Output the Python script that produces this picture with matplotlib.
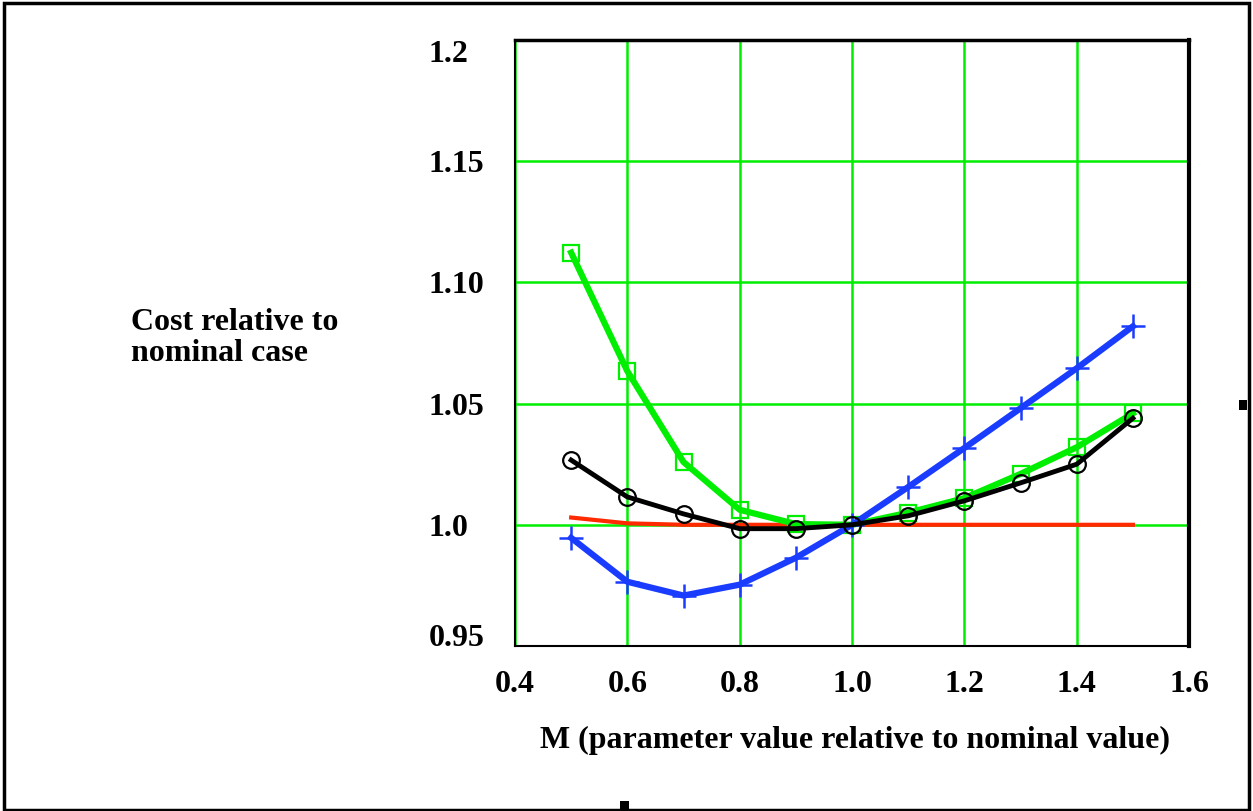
import numpy as np
import matplotlib
matplotlib.use("Agg")
import matplotlib.pyplot as plt
from matplotlib.patches import Rectangle

# M values (parameter relative to nominal)
m = [0.5, 0.6, 0.7, 0.8, 0.9, 1.0, 1.1, 1.2, 1.3, 1.4, 1.5]

# cost relative to nominal case, one curve per parameter
cost_red = [1.003, 1.0006, 1.0, 1.0, 1.0, 1.0, 1.0, 1.0, 1.0, 1.0, 1.0]
cost_green = [1.1123, 1.0634, 1.0259, 1.0062, 1.0003, 1.0, 1.0050, 1.0110, 1.0210, 1.0320, 1.0460]
cost_blue = [0.9946, 0.9765, 0.9708, 0.9753, 0.9864, 1.0, 1.0156, 1.0317, 1.0481, 1.0646, 1.0819]
cost_black = [1.0267, 1.0115, 1.0045, 0.9984, 0.9984, 1.0, 1.0037, 1.0099, 1.0173, 1.0250, 1.0440]

xticks = [0.4, 0.6, 0.8, 1.0, 1.2, 1.4, 1.6]
xlabels = ['0.4', '0.6', '0.8', '1.0', '1.2', '1.4', '1.6']
yticks = [0.95, 1.0, 1.05, 1.10, 1.15, 1.2]
ylabels = ['0.95', '1.0', '1.05', '1.10', '1.15', '1.2']

plt.rcParams['font.family'] = ['Liberation Serif', 'DejaVu Serif']
plt.rcParams['font.weight'] = 'bold'

fig = plt.figure(figsize=(12.53, 8.11), dpi=100)
ax = fig.add_axes([0.411, 0.2035, 0.538, 0.747])

grn = '#00ee00'
ax.plot(m, cost_red, color='#ff2a00', lw=3, zorder=3)
ax.plot(m, cost_green, color=grn, lw=4.5, marker='s', ms=12, mfc='none',
        mec=grn, mew=1.6, zorder=4)
ax.plot(m, cost_blue, color='#1a3cff', lw=4.5, marker='+', ms=17,
        mew=1.8, zorder=5)
ax.plot(m, cost_black, color='black', lw=3.5, marker='o', ms=12, mfc='none',
        mec='black', mew=1.6, zorder=6)

ax.set_xlim(0.4, 1.6)
ax.set_ylim(0.95, 1.2)
ax.set_xticks(xticks)
ax.set_xticklabels(xlabels, fontsize=23, fontweight='bold')
ax.set_yticks(yticks)
ax.set_yticklabels(ylabels, fontsize=23, fontweight='bold')
ylabs = ax.get_yticklabels()
for lab in ylabs:
    lab.set_horizontalalignment('left')
ylabs[0].set_verticalalignment('baseline')
ylabs[-1].set_verticalalignment('top')
ax.tick_params(axis='y', length=0, pad=62)
ax.tick_params(axis='x', length=0, pad=17)

ax.grid(True, color=grn, lw=1.8, zorder=1)
ax.set_axisbelow(True)
for s in ['left', 'bottom', 'top']:
    ax.spines[s].set_linewidth(1.5)
ax.spines['top'].set_linewidth(2.5)
ax.spines['right'].set_linewidth(3)

fig.text(131 / 1253, 1 - 338 / 811, 'Cost relative to\nnominal case',
         fontsize=23, fontweight='bold', ha='left', va='center',
         linespacing=1.1)
fig.text(855 / 1253, 1 - 740 / 811,
         'M (parameter value relative to nominal value)',
         fontsize=23, fontweight='bold', ha='center', va='center')

# frame around the figure
fig.patches.append(Rectangle((0.003, 0.001), 0.994, 0.995, transform=fig.transFigure,
                             fill=False, ec='black', lw=2.5))
fig.patches.append(Rectangle((1239 / 1253, 1 - 410 / 811), 8 / 1253, 10 / 811,
                             transform=fig.transFigure, fc='black', ec='none'))
fig.patches.append(Rectangle((620 / 1253, 0.0), 9 / 1253, 10 / 811,
                             transform=fig.transFigure, fc='black', ec='none'))

plt.savefig("out.png", dpi=100)
